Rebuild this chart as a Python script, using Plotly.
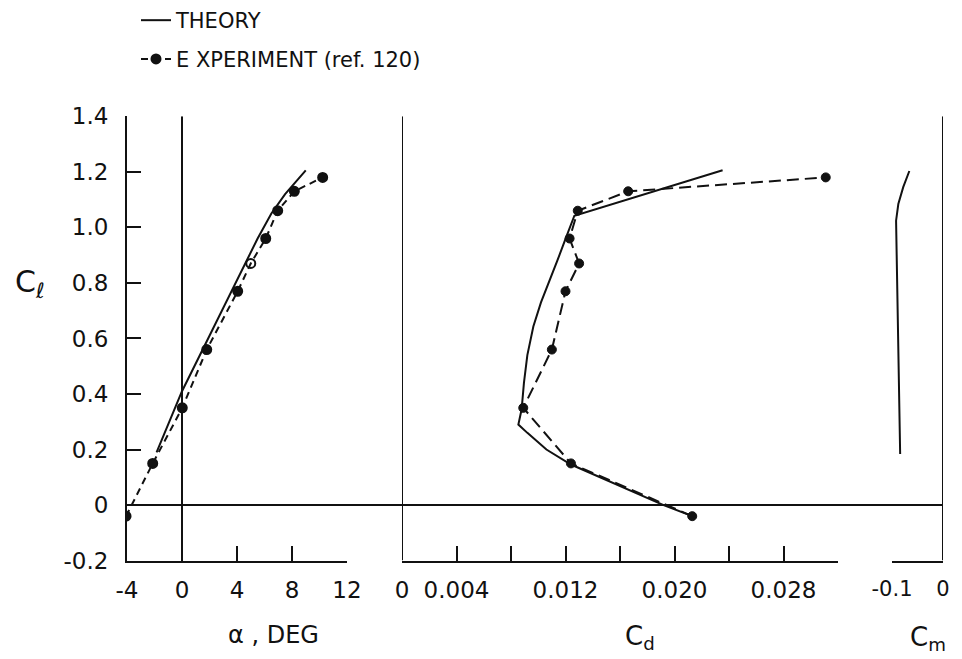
import plotly.graph_objects as go

W, H = 962, 659

# ---------------- data ----------------
# Theory, lift curve
alpha_theory = [-1.85, 0.0, 2.0, 4.0, 5.5, 6.5, 7.5, 9.0]
cl_theory_alpha = [0.19, 0.41, 0.61, 0.81, 0.96, 1.05, 1.12, 1.205]

# Experiment (ref. 120)
cl_exp = [-0.04, 0.15, 0.35, 0.56, 0.77, 0.87, 0.96, 1.06, 1.13, 1.18]
alpha_exp = [-4.07, -2.13, 0.02, 1.8, 4.05, 5.0, 6.09, 6.96, 8.17, 10.23]
cd_exp = [0.0213, 0.0124, 0.0089, 0.0110, 0.0120, 0.0130, 0.0123, 0.0129, 0.0166, 0.0311]
exp_symbols = ["circle", "circle", "circle", "circle", "circle", "circle-open",
               "circle", "circle", "circle", "circle"]

# Theory, drag polar
cl_theory_cd = [-0.04, 0.0, 0.146, 0.20, 0.26, 0.29, 0.345, 0.44, 0.54, 0.643, 0.73,
                0.81, 0.88, 0.953, 1.042, 1.206]
cd_theory = [0.0213, 0.0192, 0.0124, 0.0106, 0.0092, 0.00854, 0.00878, 0.00895, 0.0092,
             0.00964, 0.0102, 0.01086, 0.0114, 0.01196, 0.01265, 0.02353]

# Theory, moment
cl_theory_cm = [0.184, 1.024, 1.084, 1.145, 1.203]
cm_theory = [-0.084, -0.092, -0.0876, -0.078, -0.066]

# tick labels
cl_ticks = [-0.2, 0, 0.2, 0.4, 0.6, 0.8, 1.0, 1.2, 1.4]
cl_ticktext = ["-0.2", "0", "0.2", "0.4", "0.6", "0.8", "1.0", "1.2", "1.4"]
alpha_ticks = [-4, 0, 4, 8, 12]
alpha_ticktext = ["-4", "0", "4", "8", "12"]
cd_ticks = [0, 0.004, 0.008, 0.012, 0.016, 0.020, 0.024, 0.028, 0.032]
cd_ticktext = ["0", "0.004", "", "0.012", "", "0.020", "", "0.028", ""]
cm_ticks = [-0.1, 0]
cm_ticktext = ["-0.1", "0"]

# ---------------- figure ----------------
INK = "#111111"
FONT = "DejaVu Sans"


def px_x(p):
    return p / W


def px_y(p):
    return (H - p) / H


fig = go.Figure()

exp_line = dict(color=INK, width=2, dash="7px,5px")
th_line = dict(color=INK, width=2)
exp_marker = dict(color=INK, size=9, symbol=exp_symbols, line=dict(color=INK, width=2))

fig.add_trace(go.Scatter(x=alpha_theory, y=cl_theory_alpha, mode="lines", line=th_line,
                         name="THEORY", legend="legend", xaxis="x", yaxis="y"))
fig.add_trace(go.Scatter(x=alpha_exp, y=cl_exp, mode="lines+markers", line=exp_line,
                         marker=exp_marker, name="E XPERIMENT (ref. 120)", legend="legend2",
                         xaxis="x", yaxis="y"))
fig.add_trace(go.Scatter(x=cd_theory, y=cl_theory_cd, mode="lines", line=th_line,
                         showlegend=False, xaxis="x2", yaxis="y"))
fig.add_trace(go.Scatter(x=cd_exp, y=cl_exp, mode="lines+markers",
                         line=dict(color=INK, width=2, dash="12px,6px"),
                         marker=dict(color=INK, size=9, line=dict(color=INK, width=1)),
                         showlegend=False, xaxis="x2", yaxis="y"))
fig.add_trace(go.Scatter(x=cm_theory, y=cl_theory_cm, mode="lines", line=th_line,
                         showlegend=False, xaxis="x3", yaxis="y"))

tickfont = dict(family=FONT, size=23, color=INK)
common_x = dict(showline=True, linecolor=INK, linewidth=2, ticks="inside", ticklen=15,
                tickwidth=2, tickcolor=INK, showgrid=False, zeroline=False,
                anchor="y", ticklabelstandoff=8, fixedrange=True, automargin=False)

y0, y1 = px_y(560), px_y(113)

fig.update_layout(
    width=W, height=H,
    margin=dict(l=0, r=0, t=0, b=0),
    paper_bgcolor="white", plot_bgcolor="white",
    font=dict(family=FONT, color=INK),
    xaxis=dict(domain=[px_x(127), px_x(347)], range=[-4, 12], tickmode="array",
               tickvals=alpha_ticks, ticktext=alpha_ticktext, tickfont=tickfont, **common_x),
    xaxis2=dict(domain=[px_x(402), px_x(838)], range=[0, 0.032], tickmode="array",
                tickvals=cd_ticks, ticktext=cd_ticktext, tickfont=tickfont, **common_x),
    xaxis3=dict(domain=[px_x(892), px_x(943)], range=[-0.1, 0], tickmode="array",
                tickvals=cm_ticks, ticktext=cm_ticktext,
                tickfont=dict(family=FONT, size=21, color=INK), **common_x),
    yaxis=dict(domain=[y0, y1], range=[-0.2, 1.4], tickmode="array", tickvals=cl_ticks,
               ticktext=cl_ticktext, showline=True, linecolor=INK, linewidth=2,
               ticks="inside", ticklen=14, tickwidth=2, tickcolor=INK, showgrid=False,
               zeroline=False, tickfont=tickfont, anchor="x", ticklabelstandoff=12,
               fixedrange=True, automargin=False),
    legend=dict(x=px_x(136), y=px_y(-4), xanchor="left", yanchor="top",
                font=dict(family=FONT, size=21, color=INK), bgcolor="rgba(0,0,0,0)",
                itemwidth=30),
    legend2=dict(x=px_x(136), y=px_y(35), xanchor="left", yanchor="top",
                 font=dict(family=FONT, size=21, color=INK), bgcolor="rgba(0,0,0,0)",
                 itemwidth=30),
    showlegend=True,
)

# reference lines
shape_line = dict(color=INK, width=2)
fig.add_shape(type="line", xref="paper", yref="y", x0=px_x(127), x1=px_x(943), y0=0, y1=0,
              line=shape_line)
fig.add_shape(type="line", xref="x", yref="y", x0=0, x1=0, y0=-0.2, y1=1.4, line=shape_line)
fig.add_shape(type="line", xref="x2", yref="y", x0=0, x1=0, y0=-0.2, y1=1.4, line=shape_line)
fig.add_shape(type="line", xref="x3", yref="y", x0=0, x1=0, y0=-0.2, y1=1.4, line=shape_line)

# axis titles
fig.add_annotation(text="C<sub>ℓ</sub>", x=px_x(30), y=px_y(281), xref="paper", yref="paper",
                   xanchor="center", yanchor="middle",
                   showarrow=False, font=dict(family=FONT, size=30, color=INK))
fig.add_annotation(text="α , DEG", x=px_x(273), y=px_y(635), xref="paper", yref="paper",
                   xanchor="center", yanchor="middle",
                   showarrow=False, font=dict(family=FONT, size=24, color=INK))
fig.add_annotation(text="C<sub>d</sub>", x=px_x(640), y=px_y(637), xref="paper", yref="paper",
                   xanchor="center", yanchor="middle",
                   showarrow=False, font=dict(family=FONT, size=26, color=INK))
fig.add_annotation(text="C<sub>m</sub>", x=px_x(928), y=px_y(638), xref="paper", yref="paper",
                   xanchor="center", yanchor="middle",
                   showarrow=False, font=dict(family=FONT, size=26, color=INK))

fig.write_html("out.html")
